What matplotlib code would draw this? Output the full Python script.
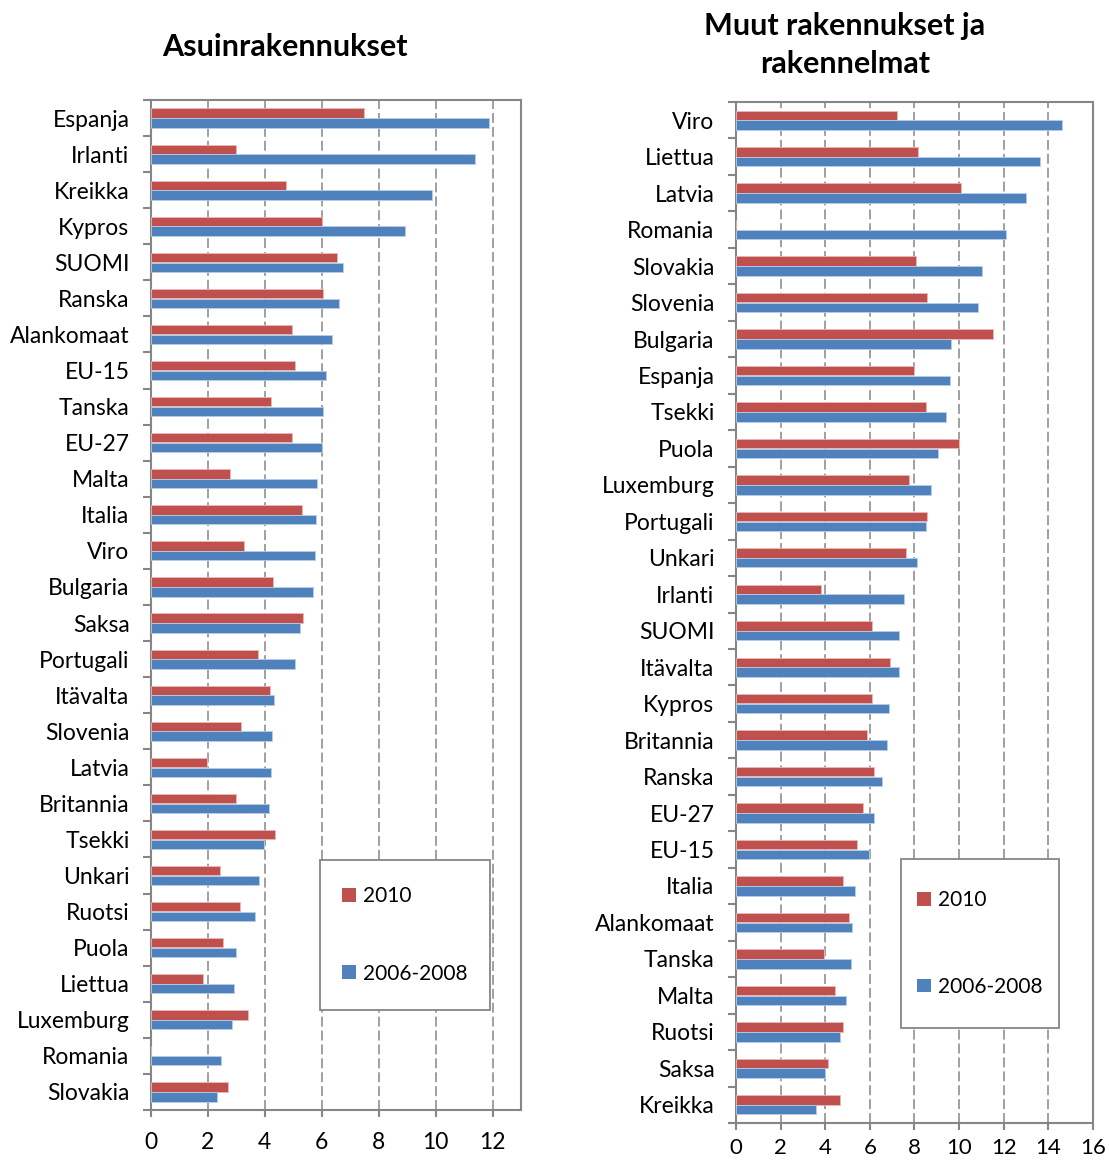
import matplotlib
matplotlib.use("Agg")
import matplotlib.pyplot as plt
import numpy as np
from matplotlib.patches import Patch, Rectangle

plt.rcParams['font.family'] = ['Lato', 'DejaVu Sans']

# --- Data: Asuinrakennukset ---
res_countries = ["Espanja", "Irlanti", "Kreikka", "Kypros", "SUOMI", "Ranska", "Alankomaat",
                 "EU-15", "Tanska", "EU-27", "Malta", "Italia", "Viro", "Bulgaria", "Saksa",
                 "Portugali", "Itävalta", "Slovenia", "Latvia", "Britannia", "Tsekki", "Unkari",
                 "Ruotsi", "Puola", "Liettua", "Luxemburg", "Romania", "Slovakia"]
res_2010 = [7.50, 2.97, 4.76, 6.01, 6.53, 6.04, 4.97, 5.06, 4.23, 4.96, 2.76, 5.31, 3.26, 4.28,
            5.33, 3.77, 4.19, 3.17, 1.96, 2.99, 4.36, 2.44, 3.13, 2.53, 1.83, 3.40, 0.0, 2.69]
res_0608 = [11.86, 11.37, 9.89, 8.93, 6.74, 6.59, 6.35, 6.16, 6.06, 6.02, 5.84, 5.78, 5.77, 5.69,
            5.24, 5.07, 4.31, 4.26, 4.22, 4.15, 3.96, 3.81, 3.64, 2.98, 2.90, 2.85, 2.45, 2.32]

# --- Data: Muut rakennukset ja rakennelmat ---
oth_countries = ["Viro", "Liettua", "Latvia", "Romania", "Slovakia", "Slovenia", "Bulgaria",
                 "Espanja", "Tsekki", "Puola", "Luxemburg", "Portugali", "Unkari", "Irlanti",
                 "SUOMI", "Itävalta", "Kypros", "Britannia", "Ranska", "EU-27", "EU-15",
                 "Italia", "Alankomaat", "Tanska", "Malta", "Ruotsi", "Saksa", "Kreikka"]
oth_2010 = [7.20, 8.16, 10.09, 0.0, 8.05, 8.55, 11.54, 7.96, 8.53, 10.01, 7.77, 8.57, 7.63, 3.83,
            6.11, 6.89, 6.11, 5.88, 6.20, 5.67, 5.43, 4.78, 5.06, 3.94, 4.43, 4.78, 4.12, 4.68]
oth_0608 = [14.62, 13.61, 12.98, 12.10, 11.02, 10.84, 9.64, 9.60, 9.40, 9.06, 8.72, 8.50, 8.13,
            7.51, 7.30, 7.30, 6.84, 6.78, 6.53, 6.18, 5.96, 5.33, 5.21, 5.16, 4.92, 4.67, 4.01, 3.59]

series_labels = ["2010", "2006-2008"]
res_xticks = [0, 2, 4, 6, 8, 10, 12]
oth_xticks = [0, 2, 4, 6, 8, 10, 12, 14, 16]

RED = "#C0504D"
BLUE = "#4F81BD"
GRAY = "#868686"

W, H = 1109, 1163
fig = plt.figure(figsize=(W / 100, H / 100), dpi=100)


def px_axes(left, right, top, bottom):
    return fig.add_axes([left / W, 1 - bottom / H, (right - left) / W, (bottom - top) / H])


def draw(ax, cats, v1, v2, xmax, xticks, gridmax, label_pad, xpad, xsize):
    n = len(cats)
    y = np.arange(n)
    bh = 0.26
    ax.barh(y - 0.135, v1, height=bh, color=RED, edgecolor="#E6B9B8", linewidth=0.6, zorder=3)
    ax.barh(y + 0.135, v2, height=bh, color=BLUE, edgecolor="#B9CDE5", linewidth=0.6, zorder=3)
    ax.set_ylim(n - 0.5, -0.5)
    ax.set_xlim(0, xmax)
    ax.set_yticks(y)
    ax.set_yticklabels(cats, fontsize=16.5)
    ax.set_yticks(np.arange(n + 1) - 0.5, minor=True)
    ax.tick_params(axis='y', which='major', length=0, pad=label_pad)
    ax.tick_params(axis='y', which='minor', length=6, width=1.5, color=GRAY)
    ax.set_xticks(xticks)
    ax.tick_params(axis='x', which='major', length=5, width=1.5, color=GRAY, pad=xpad,
                   labelsize=xsize)
    for g in [t for t in xticks if 0 < t <= gridmax]:
        ax.axvline(g, color=GRAY, linestyle=(0, (6.5, 2.6)), linewidth=1.1, zorder=1)
    for s in ax.spines.values():
        s.set_color(GRAY)
        s.set_linewidth(1.5)


def legend_box(ax, left, right, top, bottom, spacing):
    rect = Rectangle((left / W, 1 - bottom / H), (right - left) / W, (bottom - top) / H,
                     transform=fig.transFigure, facecolor="white", edgecolor=GRAY,
                     linewidth=1.3, zorder=5, clip_on=False)
    ax.add_patch(rect)
    handles = [Patch(facecolor=RED, edgecolor="none"), Patch(facecolor=BLUE, edgecolor="none")]
    leg = ax.legend(handles, series_labels, loc='center',
                    bbox_to_anchor=((left + right) / 2 / W, 1 - (top + bottom) / 2 / H),
                    bbox_transform=fig.transFigure, fontsize=15, frameon=False,
                    handlelength=0.65, handleheight=0.65, handletextpad=0.35,
                    labelspacing=spacing, borderpad=0, borderaxespad=0)
    leg.set_zorder(10)
    return leg


ax1 = px_axes(151, 521, 100, 1110)
draw(ax1, res_countries, res_2010, res_0608, 13, res_xticks, 12, 15.5, 11, 16.5)
ax2 = px_axes(736, 1093, 102, 1123)
draw(ax2, oth_countries, oth_2010, oth_0608, 16, oth_xticks, 14, 15.5, 6, 16)

legend_box(ax1, 320, 490, 860, 1010, 2.75)
legend_box(ax2, 901, 1059, 859, 1028, 3.2)

fig.text(285 / W, 1 - 47 / H, "Asuinrakennukset", ha='center', va='center',
         fontsize=22, fontweight='bold')
fig.text(845 / W, 1 - 45 / H, "Muut rakennukset ja\nrakennelmat", ha='center', va='center',
         fontsize=22, fontweight='bold', linespacing=1.4)

fig.savefig("out.png", dpi=100)
